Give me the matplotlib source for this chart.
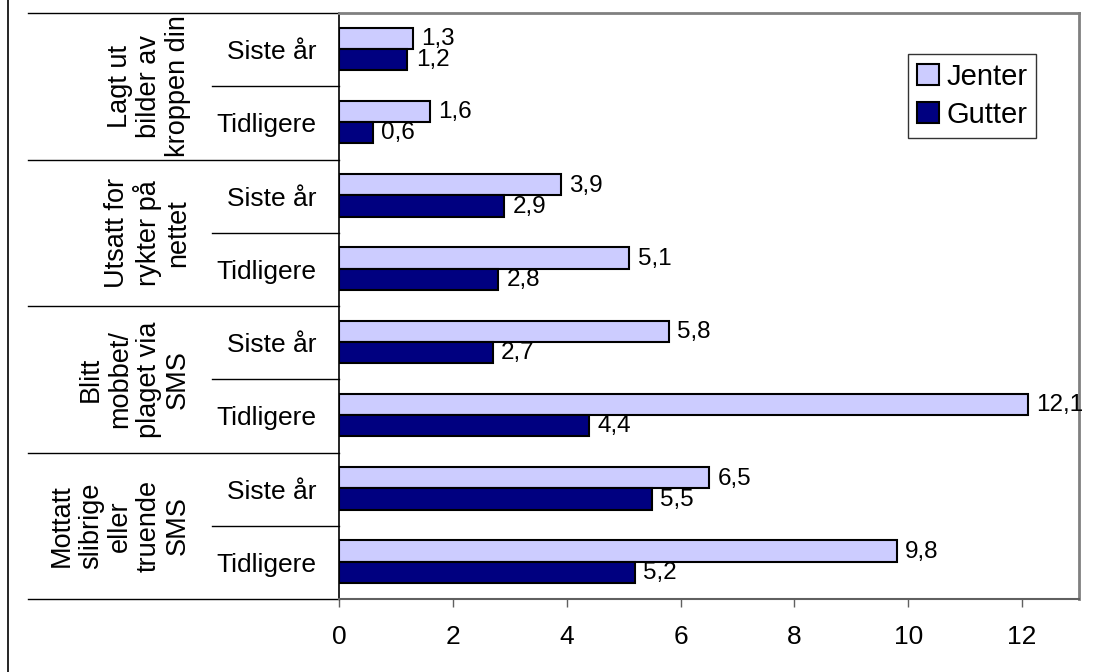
import matplotlib.pyplot as plt
from matplotlib.lines import Line2D
import numpy as np

plt.rcParams['font.family'] = ['Liberation Sans', 'DejaVu Sans']

# data, top to bottom
groups = ["Lagt ut\nbilder av\nkroppen din",
          "Utsatt for\nrykter på\nnettet",
          "Blitt\nmobbet/\nplaget via\nSMS",
          "Mottatt\nslibrige\neller\ntruende\nSMS"]
periods = ["Siste år", "Tidligere"]
jenter = [1.3, 1.6, 3.9, 5.1, 5.8, 12.1, 6.5, 9.8]
gutter = [1.2, 0.6, 2.9, 2.8, 2.7, 4.4, 5.5, 5.2]
xticks = [0, 2, 4, 6, 8, 10, 12]

W, H = 1104, 672
fig = plt.figure(figsize=(W / 100, H / 100), dpi=100)
L, R, T, B = 339, 1079, 13, 599
ax = fig.add_axes([L / W, 1 - B / H, (R - L) / W, (B - T) / H])

n = len(jenter)
y = np.arange(n) + 0.5
h = 0.29
ax.barh(y - h / 2 - 0.01, jenter, height=h, color='#CCCCFF', edgecolor='black',
        linewidth=1.5, label='Jenter')
ax.barh(y + h / 2 - 0.01, gutter, height=h, color='#000080', edgecolor='black',
        linewidth=1.5, label='Gutter')

for yi, v in zip(y, jenter):
    ax.annotate(f"{v:.1f}".replace('.', ','), (v, yi - h / 2), xytext=(6, 0),
                textcoords='offset points', va='center', ha='left', fontsize=17.5)
for yi, v in zip(y, gutter):
    ax.annotate(f"{v:.1f}".replace('.', ','), (v, yi + h / 2), xytext=(6, 0),
                textcoords='offset points', va='center', ha='left', fontsize=17.5)

ax.set_xlim(0, 13)
ax.set_ylim(n, 0)
ax.set_xticks(xticks)
ax.set_xticklabels([str(t) for t in xticks], fontsize=19)
ax.tick_params(axis='x', length=6, width=1, color='#606060', pad=13)
ax.set_yticks(y)
ax.set_yticklabels(periods * len(groups), fontsize=19)
ax.tick_params(axis='y', length=0, pad=16)

for s in ['top', 'right']:
    ax.spines[s].set_color('#808080')
    ax.spines[s].set_linewidth(2)
ax.spines['bottom'].set_color('#606060')
ax.spines['bottom'].set_linewidth(1.5)
ax.spines['left'].set_color('black')
ax.spines['left'].set_linewidth(1.2)

# category separators on the left
tr = ax.get_yaxis_transform()
x_out = (28 - L) / (R - L)
x_in = (212 - L) / (R - L)
for k in range(len(groups) + 1):
    ax.add_line(Line2D([x_out, 0], [2 * k, 2 * k], transform=tr, color='black',
                       lw=1, clip_on=False))
for k in range(len(groups)):
    ax.add_line(Line2D([x_in, 0], [2 * k + 1, 2 * k + 1], transform=tr, color='black',
                       lw=1, clip_on=False))
    ax.text((191 - L) / (R - L), 2 * k + 1, groups[k], transform=tr, rotation=90,
            ha='right', va='center', multialignment='center', fontsize=19.5,
            linespacing=1.15)

# outer chart frame (left edge)
fig.add_artist(Line2D([8 / W, 8 / W], [0, 1], transform=fig.transFigure,
                      color='black', lw=1.2))

leg = ax.legend(loc='upper right', bbox_to_anchor=((1036 - L) / (R - L), (B - 54) / (B - T)),
                fontsize=21, frameon=True, fancybox=False, edgecolor='black',
                handlelength=0.75, handleheight=0.75, handletextpad=0.25,
                borderpad=0.3, labelspacing=0.35, borderaxespad=0)
leg.get_frame().set_linewidth(1)

plt.savefig('out.png', dpi=100)
